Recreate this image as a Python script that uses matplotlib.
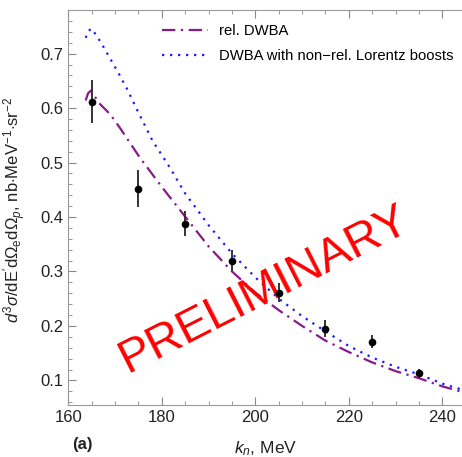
import numpy as np
import matplotlib
matplotlib.use("Agg")
import matplotlib.pyplot as plt
from matplotlib.ticker import MultipleLocator

plt.rcParams['font.family'] = ['Liberation Sans', 'DejaVu Sans']
plt.rcParams['mathtext.fontset'] = 'custom'
plt.rcParams['mathtext.rm'] = 'Liberation Sans'
plt.rcParams['mathtext.it'] = 'Liberation Sans:italic'
plt.rcParams['mathtext.bf'] = 'Liberation Sans:bold'

# data points (k_n in MeV, cross section, error)
k_data = [165, 175, 185, 195, 205, 215, 225, 235]
xs_data = [0.612, 0.452, 0.388, 0.320, 0.261, 0.195, 0.171, 0.113]
xs_err = [0.040, 0.034, 0.023, 0.020, 0.017, 0.015, 0.012, 0.008]

# rel. DWBA curve
k_rel = [163.7, 164.2, 164.8, 166.7, 169.0, 171.0, 175.3, 180.0, 184.5, 190.0,
         195.0, 200.0, 205.0, 210.0, 215.0, 220.0, 225.0, 230.0, 235.0, 240.0, 244.2]
xs_rel = [0.614, 0.627, 0.632, 0.608, 0.588, 0.564, 0.509, 0.455, 0.406, 0.346,
          0.300, 0.261, 0.229, 0.200, 0.173, 0.152, 0.133, 0.117, 0.104, 0.089, 0.079]

# DWBA with non-rel. Lorentz boosts
k_nr = [163.7, 164.3, 165.0, 167.0, 168.6, 170.8, 172.5, 174.8, 178.0, 181.7,
        185.0, 190.0, 195.0, 200.0, 205.0, 210.0, 215.0, 220.0, 225.0, 230.0,
        235.0, 240.0, 244.2]
xs_nr = [0.729, 0.742, 0.746, 0.720, 0.696, 0.663, 0.636, 0.595, 0.540, 0.491,
         0.443, 0.385, 0.333, 0.289, 0.250, 0.218, 0.190, 0.163, 0.142, 0.125,
         0.111, 0.094, 0.083]

fig = plt.figure(figsize=(4.62, 4.57), dpi=100)
ax = fig.add_axes([0.148, 0.114, 0.852, 0.864])

purple = '#8a1a8a'
blue = '#1a1aff'
ax.plot(k_rel, xs_rel, color=purple, lw=1.6, linestyle=(0, (6, 2.5, 1, 2.5)),
        label='rel. DWBA')
ax.plot(k_nr, xs_nr, color=blue, lw=1.6, linestyle=(0, (1, 2.6)),
        label='DWBA with non\u2212rel. Lorentz boosts')
ax.errorbar(k_data, xs_data, yerr=xs_err, fmt='o', color='black', ms=4.5,
            ecolor='#333333', elinewidth=1.4, capsize=0, zorder=5)

ax.set_xlim(160, 244.2)
ax.set_ylim(0.055, 0.780)
ax.xaxis.set_major_locator(MultipleLocator(20))
ax.xaxis.set_minor_locator(MultipleLocator(5))
ax.yaxis.set_major_locator(MultipleLocator(0.1))
ax.yaxis.set_minor_locator(MultipleLocator(0.02))
ax.tick_params(which='both', direction='in', top=True, right=False,
               color='#888888', labelsize=12, labelcolor='#222222')
ax.tick_params(which='major', length=6, width=0.8)
ax.tick_params(which='minor', length=3, width=0.6)
for s in ['left', 'bottom', 'top']:
    ax.spines[s].set_color('#999999')
ax.spines['right'].set_visible(False)

ax.set_xlabel(r'$k_n$, MeV', fontsize=12.5, color='#222222')
ax.xaxis.set_label_coords(0.5, -0.088)
ax.set_ylabel(r"$d^3\sigma\mathrm{/dE'd\Omega_e d\Omega_{\mathit{p}}}$, nb$\cdot$MeV$^{-1}$$\cdot$sr$^{-2}$",
              fontsize=12, color='#222222')
ax.yaxis.set_label_coords(-0.102, 0.495)

ax.legend(loc='upper left', bbox_to_anchor=(0.2376, 0.965), frameon=False,
          fontsize=10.7, handlelength=3.1, handletextpad=0.74, borderpad=0,
          borderaxespad=0, labelspacing=0.75)

ax.text(0.497, 0.291, 'PRELIMINARY', transform=ax.transAxes, color='red',
        fontsize=34, rotation=27, ha='center', va='center',
        rotation_mode='anchor')

fig.text(82 / 462, 1 - 445 / 457, '(a)', fontsize=12, fontweight='bold',
         ha='center', va='center', color='#222222')

fig.savefig('out.png', dpi=100)
